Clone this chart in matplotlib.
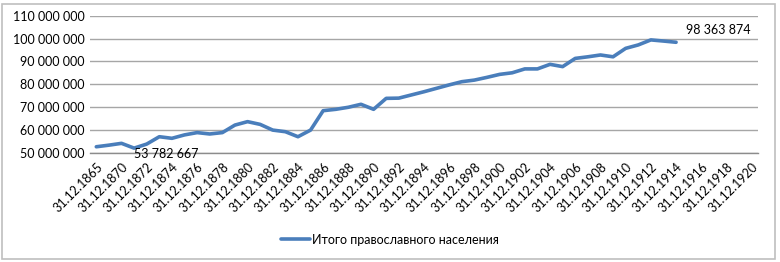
import matplotlib
matplotlib.use("Agg")
import matplotlib.pyplot as plt
from matplotlib.patches import Rectangle

# Categories (category axis, Excel style)
years = [1865, 1869] + list(range(1870, 1921))
categories = ["31.12.%d" % y for y in years]

# Total Orthodox population (millions); last point is labelled
values_m = [52.6, 53.3, 54.1, 52.0, 53.782667, 57.0, 56.3, 57.8, 58.8, 58.2,
            58.8, 62.1, 63.6, 62.4, 59.9, 59.2, 57.0, 59.9, 68.4, 69.0,
            69.9, 71.2, 69.0, 73.8, 73.9, 75.3, 76.7, 78.2, 79.7, 81.1,
            81.8, 83.0, 84.3, 85.0, 86.7, 86.7, 88.7, 87.7, 91.3, 92.0,
            92.8, 92.0, 95.7, 97.2, 99.4, 98.9, 98.363874]
values = [v * 1e6 for v in values_m]
series_name = "Итого православного населения"
labelled = {4: "53 782 667", 46: "98 363 874"}

yticks = list(range(50_000_000, 110_000_001, 10_000_000))

plt.rcParams['font.family'] = ['Lato', 'DejaVu Sans']

fig = plt.figure(figsize=(7.8, 2.62), dpi=100)
ax = fig.add_axes([90/780, 1 - 152.7/262, (758-90)/780, (152.7-15.7)/262])

xs = list(range(len(values)))
ax.plot(xs, values, color="#4a7ebb", lw=2.6, solid_joinstyle='round',
        solid_capstyle='round', label=series_name, zorder=3)

ax.set_xlim(-0.5, len(categories) - 0.5)
ax.set_ylim(yticks[0], yticks[-1])
ax.set_yticks(yticks)
ax.set_yticklabels(["{:,}".format(t).replace(",", " ") for t in yticks])
ax.set_xticks(list(range(0, len(categories), 2)))
ax.set_xticklabels(categories[::2], rotation=45, ha='right', va='top',
                   rotation_mode='anchor')
ax.tick_params(axis='both', length=0, labelsize=9, colors='black', pad=4)
ax.tick_params(axis='x', pad=6)
ax.grid(axis='y', color='#a6a6a6', lw=1)
ax.set_axisbelow(True)
for s in ['top', 'right', 'left']:
    ax.spines[s].set_visible(False)
ax.spines['bottom'].set_color('#8c8c8c')
ax.spines['bottom'].set_linewidth(1)

offsets = {4: (14.4, -7.5), 46: (30.7, 9.1)}
for i, txt in labelled.items():
    ax.annotate(txt, xy=(i, values[i]), xytext=offsets[i],
                textcoords='offset points', ha='center', va='center',
                fontsize=9, color='black', annotation_clip=False)

fig.legend(loc='center', bbox_to_anchor=(0.5, 1 - 239.5/262), frameon=False,
           fontsize=9, handlelength=2.3, handletextpad=0.2)

fig.patches.append(Rectangle((2/780, 3/262), 773/780, 255/262,
                             transform=fig.transFigure, fill=False,
                             edgecolor='#bfbfbf', lw=1.2))

fig.savefig("out.png", dpi=100)
